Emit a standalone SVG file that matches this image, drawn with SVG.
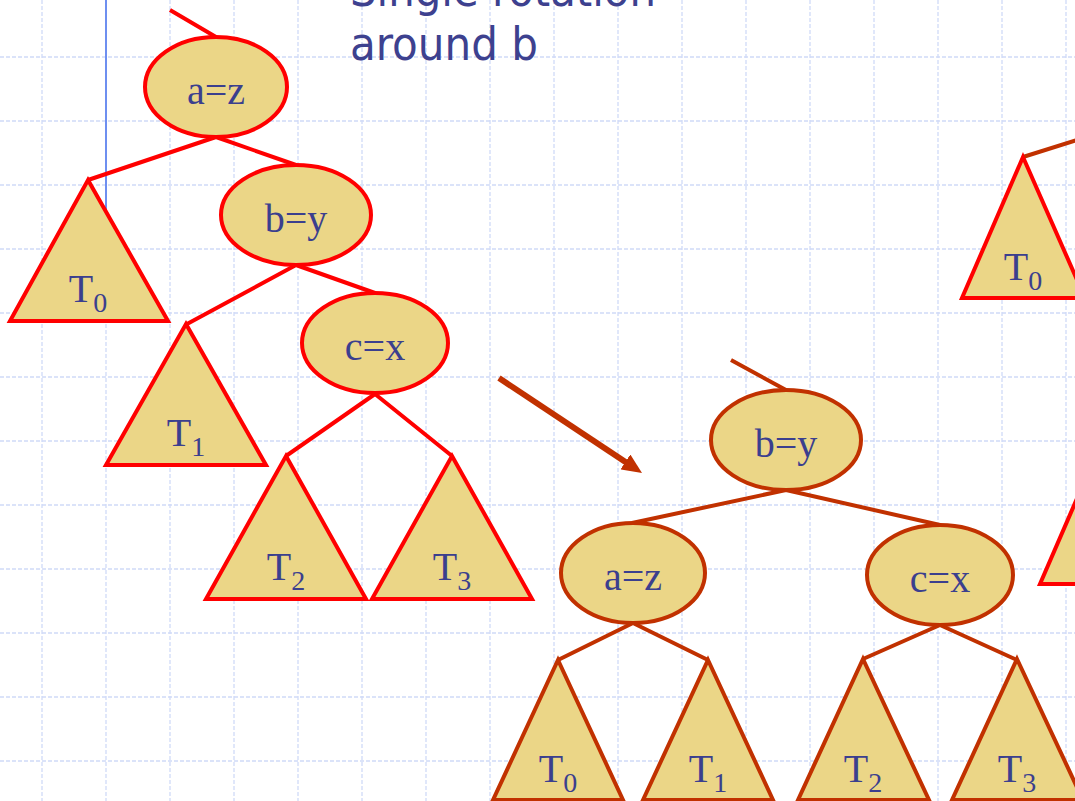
<svg xmlns="http://www.w3.org/2000/svg" width="1075" height="801" viewBox="0 0 1075 801">
<style>
.grid{fill:none;stroke:#d0daf8;stroke-width:1.3;stroke-dasharray:4 2}
.e1{fill:#ebd687;stroke:#ff0000;stroke-width:4}
.e2{fill:#ebd687;stroke:#c13100;stroke-width:4}
.c1{fill:none;stroke:#ff0000;stroke-width:4;stroke-linejoin:miter}
.c2{fill:none;stroke:#c13100;stroke-width:4}
.lbl{font-family:"Liberation Serif","Times New Roman",serif;font-size:40px;fill:#3b3f8e;text-anchor:middle}
.sub{font-size:28px}
.title{font-family:"DejaVu Sans Condensed","DejaVu Sans",sans-serif;font-stretch:condensed;font-size:47px;fill:#3d418f}
</style>
<defs>
<marker id="ah" markerUnits="userSpaceOnUse" markerWidth="20" markerHeight="18" viewBox="0 0 20 18" refX="2" refY="9" orient="auto">
<path d="M0,0 L20,9 L0,18 z" fill="#c13100"/>
</marker>
</defs>
<rect width="1075" height="801" fill="#ffffff"/>
<path class="grid" d="M42,0V801M106,0V801M170,0V801M234,0V801M298,0V801M362,0V801M426,0V801M490,0V801M554,0V801M618,0V801M682,0V801M746,0V801M810,0V801M874,0V801M938,0V801M1002,0V801M1066,0V801M0,57H1075M0,121H1075M0,185H1075M0,249H1075M0,313H1075M0,377H1075M0,441H1075M0,505H1075M0,569H1075M0,633H1075M0,697H1075M0,761H1075"/>
<line x1="106" y1="0" x2="106" y2="240" stroke="#6e8ff0" stroke-width="2"/>
<g id="title">
<text class="title" x="350" y="6" textLength="306" lengthAdjust="spacingAndGlyphs">Single rotation</text>
<text class="title" x="350" y="60" textLength="188" lengthAdjust="spacingAndGlyphs">around b</text>
</g>
<g id="connectors">
<path class="c1" d="M170,10 L216,37 M216,137 L88,180 M216,137 L296,165 M296,265 L187,324 M296,265 L375,293 M375,394 L286,456 M375,394 L452,456"/>
<path class="c2" d="M731,360 L786,390 M786,490 L632,523 M786,490 L940,525 M633,623 L558,660 M633,623 L708,660 M940,625 L863,659 M940,625 L1017,660 M1023,157 L1080,139"/>
<line x1="499" y1="378" x2="627" y2="463" stroke="#c13100" stroke-width="6" marker-end="url(#ah)"/>
</g>
<g id="L_az"><ellipse class="e1" cx="216" cy="87" rx="71" ry="50"/><text class="lbl" x="216" y="104">a=z</text></g>
<g id="L_by"><ellipse class="e1" cx="296" cy="215" rx="75" ry="50"/><text class="lbl" x="296" y="232">b=y</text></g>
<g id="L_cx"><ellipse class="e1" cx="375" cy="343" rx="73" ry="50"/><text class="lbl" x="375" y="360">c=x</text></g>
<g id="L_T0"><polygon class="e1" points="88,180 168,321 10,321"/><text class="lbl" x="88" y="302">T<tspan class="sub" dy="10">0</tspan></text></g>
<g id="L_T1"><polygon class="e1" points="186,324 266,465 106,465"/><text class="lbl" x="186" y="446">T<tspan class="sub" dy="10">1</tspan></text></g>
<g id="L_T2"><polygon class="e1" points="286,456 366,599 206,599"/><text class="lbl" x="286" y="580">T<tspan class="sub" dy="10">2</tspan></text></g>
<g id="L_T3"><polygon class="e1" points="452,456 532,599 372,599"/><text class="lbl" x="452" y="580">T<tspan class="sub" dy="10">3</tspan></text></g>
<g id="R_by"><ellipse class="e2" cx="786" cy="440" rx="75" ry="50"/><text class="lbl" x="786" y="457">b=y</text></g>
<g id="R_az"><ellipse class="e2" cx="633" cy="573" rx="72" ry="50"/><text class="lbl" x="633" y="590">a=z</text></g>
<g id="R_cx"><ellipse class="e2" cx="940" cy="575" rx="73" ry="50"/><text class="lbl" x="940" y="592">c=x</text></g>
<g id="R_T0"><polygon class="e2" points="558,660 623,800 493,800"/><text class="lbl" x="558" y="782">T<tspan class="sub" dy="10">0</tspan></text></g>
<g id="R_T1"><polygon class="e2" points="708,660 773,800 643,800"/><text class="lbl" x="708" y="782">T<tspan class="sub" dy="10">1</tspan></text></g>
<g id="R_T2"><polygon class="e2" points="863,659 929,800 798,800"/><text class="lbl" x="863" y="782">T<tspan class="sub" dy="10">2</tspan></text></g>
<g id="R_T3"><polygon class="e2" points="1017,659 1083,800 952,800"/><text class="lbl" x="1017" y="782">T<tspan class="sub" dy="10">3</tspan></text></g>
<g id="F_T0"><polygon class="e1" points="1023,157 1085,298 962,298"/><text class="lbl" x="1023" y="280">T<tspan class="sub" dy="10">0</tspan></text></g>
<g id="F_T"><polygon class="e1" points="1101,443 1163,584 1040,584"/></g>
</svg>
